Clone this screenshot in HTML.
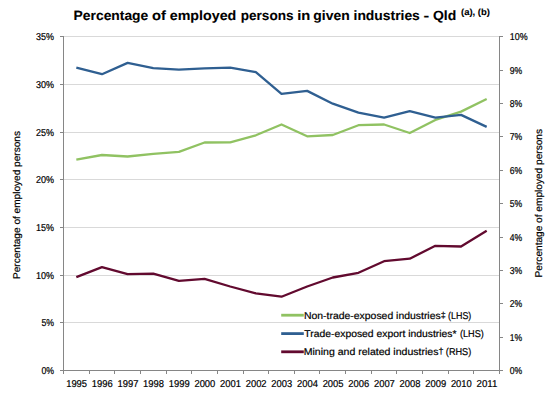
<!DOCTYPE html>
<html><head><meta charset="utf-8"><style>
html,body{margin:0;padding:0;background:#fff;}
svg{display:block;}
text{font-family:"Liberation Sans", sans-serif;fill:#000000;stroke:#000000;stroke-width:0.2px;text-rendering:geometricPrecision;}
</style></head><body>
<svg width="556" height="402" viewBox="0 0 556 402">
<rect width="556" height="402" fill="#fff"/>
<line x1="63.5" y1="322.5" x2="499.5" y2="322.5" stroke="#D9D9D9" stroke-width="1"/>
<line x1="63.5" y1="275.5" x2="499.5" y2="275.5" stroke="#D9D9D9" stroke-width="1"/>
<line x1="63.5" y1="227.5" x2="499.5" y2="227.5" stroke="#D9D9D9" stroke-width="1"/>
<line x1="63.5" y1="179.5" x2="499.5" y2="179.5" stroke="#D9D9D9" stroke-width="1"/>
<line x1="63.5" y1="132.5" x2="499.5" y2="132.5" stroke="#D9D9D9" stroke-width="1"/>
<line x1="63.5" y1="84.5" x2="499.5" y2="84.5" stroke="#D9D9D9" stroke-width="1"/>
<line x1="63.5" y1="36.5" x2="499.5" y2="36.5" stroke="#D9D9D9" stroke-width="1"/>
<line x1="63.5" y1="36.0" x2="63.5" y2="371.0" stroke="#868686" stroke-width="1"/>
<line x1="499.5" y1="36.0" x2="499.5" y2="371.0" stroke="#868686" stroke-width="1"/>
<line x1="60.0" y1="370.5" x2="500.0" y2="370.5" stroke="#868686" stroke-width="1"/>
<line x1="60.0" y1="370.5" x2="63.5" y2="370.5" stroke="#868686" stroke-width="1"/>
<line x1="60.0" y1="322.5" x2="63.5" y2="322.5" stroke="#868686" stroke-width="1"/>
<line x1="60.0" y1="275.5" x2="63.5" y2="275.5" stroke="#868686" stroke-width="1"/>
<line x1="60.0" y1="227.5" x2="63.5" y2="227.5" stroke="#868686" stroke-width="1"/>
<line x1="60.0" y1="179.5" x2="63.5" y2="179.5" stroke="#868686" stroke-width="1"/>
<line x1="60.0" y1="132.5" x2="63.5" y2="132.5" stroke="#868686" stroke-width="1"/>
<line x1="60.0" y1="84.5" x2="63.5" y2="84.5" stroke="#868686" stroke-width="1"/>
<line x1="60.0" y1="36.5" x2="63.5" y2="36.5" stroke="#868686" stroke-width="1"/>
<line x1="499.5" y1="370.5" x2="503.0" y2="370.5" stroke="#868686" stroke-width="1"/>
<line x1="499.5" y1="337.5" x2="503.0" y2="337.5" stroke="#868686" stroke-width="1"/>
<line x1="499.5" y1="303.5" x2="503.0" y2="303.5" stroke="#868686" stroke-width="1"/>
<line x1="499.5" y1="270.5" x2="503.0" y2="270.5" stroke="#868686" stroke-width="1"/>
<line x1="499.5" y1="237.5" x2="503.0" y2="237.5" stroke="#868686" stroke-width="1"/>
<line x1="499.5" y1="203.5" x2="503.0" y2="203.5" stroke="#868686" stroke-width="1"/>
<line x1="499.5" y1="170.5" x2="503.0" y2="170.5" stroke="#868686" stroke-width="1"/>
<line x1="499.5" y1="136.5" x2="503.0" y2="136.5" stroke="#868686" stroke-width="1"/>
<line x1="499.5" y1="103.5" x2="503.0" y2="103.5" stroke="#868686" stroke-width="1"/>
<line x1="499.5" y1="70.5" x2="503.0" y2="70.5" stroke="#868686" stroke-width="1"/>
<line x1="499.5" y1="36.5" x2="503.0" y2="36.5" stroke="#868686" stroke-width="1"/>
<line x1="63.5" y1="370.5" x2="63.5" y2="374.0" stroke="#868686" stroke-width="1"/>
<line x1="89.5" y1="370.5" x2="89.5" y2="374.0" stroke="#868686" stroke-width="1"/>
<line x1="114.5" y1="370.5" x2="114.5" y2="374.0" stroke="#868686" stroke-width="1"/>
<line x1="140.5" y1="370.5" x2="140.5" y2="374.0" stroke="#868686" stroke-width="1"/>
<line x1="166.5" y1="370.5" x2="166.5" y2="374.0" stroke="#868686" stroke-width="1"/>
<line x1="191.5" y1="370.5" x2="191.5" y2="374.0" stroke="#868686" stroke-width="1"/>
<line x1="217.5" y1="370.5" x2="217.5" y2="374.0" stroke="#868686" stroke-width="1"/>
<line x1="243.5" y1="370.5" x2="243.5" y2="374.0" stroke="#868686" stroke-width="1"/>
<line x1="268.5" y1="370.5" x2="268.5" y2="374.0" stroke="#868686" stroke-width="1"/>
<line x1="294.5" y1="370.5" x2="294.5" y2="374.0" stroke="#868686" stroke-width="1"/>
<line x1="319.5" y1="370.5" x2="319.5" y2="374.0" stroke="#868686" stroke-width="1"/>
<line x1="345.5" y1="370.5" x2="345.5" y2="374.0" stroke="#868686" stroke-width="1"/>
<line x1="371.5" y1="370.5" x2="371.5" y2="374.0" stroke="#868686" stroke-width="1"/>
<line x1="396.5" y1="370.5" x2="396.5" y2="374.0" stroke="#868686" stroke-width="1"/>
<line x1="422.5" y1="370.5" x2="422.5" y2="374.0" stroke="#868686" stroke-width="1"/>
<line x1="448.5" y1="370.5" x2="448.5" y2="374.0" stroke="#868686" stroke-width="1"/>
<line x1="473.5" y1="370.5" x2="473.5" y2="374.0" stroke="#868686" stroke-width="1"/>
<line x1="499.5" y1="370.5" x2="499.5" y2="374.0" stroke="#868686" stroke-width="1"/>
<polyline points="76.32,159.60 101.97,155.00 127.62,156.50 153.26,153.80 178.91,151.80 204.56,142.50 230.21,142.30 255.85,135.30 281.50,124.50 307.15,136.30 332.79,135.00 358.44,125.20 384.09,124.50 409.74,133.00 435.38,119.90 461.03,111.60 486.68,99.00" fill="none" stroke="#90C262" stroke-width="2.3" stroke-linejoin="round" stroke-linecap="butt"/>
<polyline points="76.32,67.70 101.97,74.20 127.62,62.90 153.26,68.10 178.91,69.70 204.56,68.30 230.21,67.70 255.85,72.10 281.50,93.80 307.15,90.90 332.79,103.70 358.44,112.60 384.09,117.70 409.74,111.20 435.38,117.60 461.03,114.90 486.68,126.90" fill="none" stroke="#2F5F91" stroke-width="2.3" stroke-linejoin="round" stroke-linecap="butt"/>
<polyline points="76.32,277.10 101.97,267.10 127.62,274.20 153.26,273.70 178.91,280.90 204.56,278.90 230.21,286.50 255.85,293.30 281.50,296.70 307.15,286.50 332.79,277.50 358.44,272.80 384.09,261.20 409.74,258.70 435.38,245.80 461.03,246.50 486.68,230.80" fill="none" stroke="#620A2F" stroke-width="2.3" stroke-linejoin="round" stroke-linecap="butt"/>
<text x="41.46" y="373.70" font-size="10.0" textLength="12.64" lengthAdjust="spacingAndGlyphs">0%</text>
<text x="41.46" y="325.70" font-size="10.0" textLength="12.64" lengthAdjust="spacingAndGlyphs">5%</text>
<text x="36.05" y="278.70" font-size="10.0" textLength="18.05" lengthAdjust="spacingAndGlyphs">10%</text>
<text x="36.05" y="230.70" font-size="10.0" textLength="18.05" lengthAdjust="spacingAndGlyphs">15%</text>
<text x="36.05" y="182.70" font-size="10.0" textLength="18.05" lengthAdjust="spacingAndGlyphs">20%</text>
<text x="36.05" y="135.70" font-size="10.0" textLength="18.05" lengthAdjust="spacingAndGlyphs">25%</text>
<text x="36.05" y="87.70" font-size="10.0" textLength="18.05" lengthAdjust="spacingAndGlyphs">30%</text>
<text x="36.05" y="39.70" font-size="10.0" textLength="18.05" lengthAdjust="spacingAndGlyphs">35%</text>
<text x="509.8" y="373.70" font-size="10.0" textLength="12.44" lengthAdjust="spacingAndGlyphs">0%</text>
<text x="509.8" y="340.70" font-size="10.0" textLength="12.44" lengthAdjust="spacingAndGlyphs">1%</text>
<text x="509.8" y="306.70" font-size="10.0" textLength="12.44" lengthAdjust="spacingAndGlyphs">2%</text>
<text x="509.8" y="273.70" font-size="10.0" textLength="12.44" lengthAdjust="spacingAndGlyphs">3%</text>
<text x="509.8" y="240.70" font-size="10.0" textLength="12.44" lengthAdjust="spacingAndGlyphs">4%</text>
<text x="509.8" y="206.70" font-size="10.0" textLength="12.44" lengthAdjust="spacingAndGlyphs">5%</text>
<text x="509.8" y="173.70" font-size="10.0" textLength="12.44" lengthAdjust="spacingAndGlyphs">6%</text>
<text x="509.8" y="139.70" font-size="10.0" textLength="12.44" lengthAdjust="spacingAndGlyphs">7%</text>
<text x="509.8" y="106.70" font-size="10.0" textLength="12.44" lengthAdjust="spacingAndGlyphs">8%</text>
<text x="509.8" y="73.70" font-size="10.0" textLength="12.44" lengthAdjust="spacingAndGlyphs">9%</text>
<text x="509.8" y="39.70" font-size="10.0" textLength="17.85" lengthAdjust="spacingAndGlyphs">10%</text>
<text x="66.17" y="386.8" font-size="10.0" textLength="20.9" lengthAdjust="spacingAndGlyphs">1995</text>
<text x="91.82" y="386.8" font-size="10.0" textLength="20.9" lengthAdjust="spacingAndGlyphs">1996</text>
<text x="117.47" y="386.8" font-size="10.0" textLength="20.9" lengthAdjust="spacingAndGlyphs">1997</text>
<text x="143.11" y="386.8" font-size="10.0" textLength="20.9" lengthAdjust="spacingAndGlyphs">1998</text>
<text x="168.76" y="386.8" font-size="10.0" textLength="20.9" lengthAdjust="spacingAndGlyphs">1999</text>
<text x="194.41" y="386.8" font-size="10.0" textLength="20.9" lengthAdjust="spacingAndGlyphs">2000</text>
<text x="220.06" y="386.8" font-size="10.0" textLength="20.9" lengthAdjust="spacingAndGlyphs">2001</text>
<text x="245.70" y="386.8" font-size="10.0" textLength="20.9" lengthAdjust="spacingAndGlyphs">2002</text>
<text x="271.35" y="386.8" font-size="10.0" textLength="20.9" lengthAdjust="spacingAndGlyphs">2003</text>
<text x="297.00" y="386.8" font-size="10.0" textLength="20.9" lengthAdjust="spacingAndGlyphs">2004</text>
<text x="322.64" y="386.8" font-size="10.0" textLength="20.9" lengthAdjust="spacingAndGlyphs">2005</text>
<text x="348.29" y="386.8" font-size="10.0" textLength="20.9" lengthAdjust="spacingAndGlyphs">2006</text>
<text x="373.94" y="386.8" font-size="10.0" textLength="20.9" lengthAdjust="spacingAndGlyphs">2007</text>
<text x="399.59" y="386.8" font-size="10.0" textLength="20.9" lengthAdjust="spacingAndGlyphs">2008</text>
<text x="425.23" y="386.8" font-size="10.0" textLength="20.9" lengthAdjust="spacingAndGlyphs">2009</text>
<text x="450.88" y="386.8" font-size="10.0" textLength="20.9" lengthAdjust="spacingAndGlyphs">2010</text>
<text x="476.53" y="386.8" font-size="10.0" textLength="20.9" lengthAdjust="spacingAndGlyphs">2011</text>
<text transform="translate(20,279) rotate(-90)" font-size="9.9" textLength="148" lengthAdjust="spacingAndGlyphs">Percentage of employed persons</text>
<text transform="translate(541.5,277.4) rotate(-90)" font-size="9.9" textLength="148.4" lengthAdjust="spacingAndGlyphs">Percentage of employed persons</text>
<text x="73.63" y="19.6" font-size="13.3" font-weight="bold" style="stroke-width:0.1px" textLength="74.61" lengthAdjust="spacingAndGlyphs">Percentage</text>
<text x="152.00" y="19.6" font-size="13.3" font-weight="bold" style="stroke-width:0.1px" textLength="13.93" lengthAdjust="spacingAndGlyphs">of</text>
<text x="169.74" y="19.6" font-size="13.3" font-weight="bold" style="stroke-width:0.1px" textLength="66.55" lengthAdjust="spacingAndGlyphs">employed</text>
<text x="240.73" y="19.6" font-size="13.3" font-weight="bold" style="stroke-width:0.1px" textLength="52.82" lengthAdjust="spacingAndGlyphs">persons</text>
<text x="297.26" y="19.6" font-size="13.3" font-weight="bold" style="stroke-width:0.1px" textLength="13.09" lengthAdjust="spacingAndGlyphs">in</text>
<text x="313.33" y="19.6" font-size="13.3" font-weight="bold" style="stroke-width:0.1px" textLength="36.31" lengthAdjust="spacingAndGlyphs">given</text>
<text x="353.54" y="19.6" font-size="13.3" font-weight="bold" style="stroke-width:0.1px" textLength="66.31" lengthAdjust="spacingAndGlyphs">industries</text>
<text x="423.62" y="19.6" font-size="13.3" font-weight="bold" style="stroke-width:0.1px" textLength="5.71" lengthAdjust="spacingAndGlyphs">-</text>
<text x="432.96" y="19.6" font-size="13.3" font-weight="bold" style="stroke-width:0.1px" textLength="23.29" lengthAdjust="spacingAndGlyphs">Qld</text>
<text x="461.0" y="15.1" font-size="9" font-weight="bold" style="stroke-width:0.1px" textLength="29" lengthAdjust="spacingAndGlyphs">(a), (b)</text>
<line x1="281.2" y1="315.2" x2="303.8" y2="315.2" stroke="#90C262" stroke-width="2.8" stroke-linecap="butt"/>
<line x1="281.2" y1="333.6" x2="303.8" y2="333.6" stroke="#2F5F91" stroke-width="2.8" stroke-linecap="butt"/>
<line x1="281.2" y1="351.8" x2="303.8" y2="351.8" stroke="#620A2F" stroke-width="2.8" stroke-linecap="butt"/>
<text x="303.96" y="318.8" font-size="9.9" textLength="141.74" lengthAdjust="spacingAndGlyphs">Non-trade-exposed industries<tspan font-size="8.5" dy="-0.7">‡</tspan></text>
<text x="448.06" y="318.8" font-size="9.9" textLength="23.23" lengthAdjust="spacingAndGlyphs">(LHS)</text>
<text x="304.39" y="336.9" font-size="9.9" textLength="152.13" lengthAdjust="spacingAndGlyphs">Trade-exposed export industries*</text>
<text x="459.98" y="336.9" font-size="9.9" textLength="23.85" lengthAdjust="spacingAndGlyphs">(LHS)</text>
<text x="303.74" y="355.0" font-size="9.9" textLength="139.80" lengthAdjust="spacingAndGlyphs">Mining and related industries<tspan font-size="8.5" dy="-0.7">†</tspan></text>
<text x="445.85" y="355.0" font-size="9.9" textLength="25.42" lengthAdjust="spacingAndGlyphs">(RHS)</text>
</svg>
</body></html>
